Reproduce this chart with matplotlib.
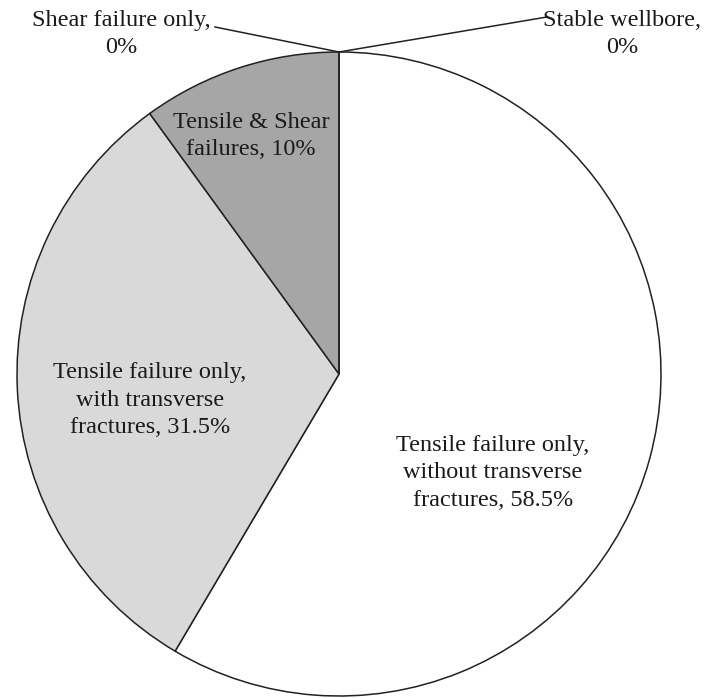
import numpy as np
import matplotlib
matplotlib.use("Agg")
import matplotlib.pyplot as plt

# Failure-mode shares (clockwise from 12 o'clock)
categories = [
    "Stable wellbore,\n0%",
    "Tensile failure only,\nwithout transverse\nfractures, 58.5%",
    "Tensile failure only,\nwith transverse\nfractures, 31.5%",
    "Tensile & Shear\nfailures, 10%",
    "Shear failure only,\n0%",
]
shares = [0.0, 58.5, 31.5, 10.0, 0.0]
colors = ["#FFFFFF", "#FFFFFF", "#D9D9D9", "#A6A6A6", "#FFFFFF"]

W, H = 713, 698
fig = plt.figure(figsize=(W / 100, H / 100), dpi=100)
ax = fig.add_axes([0, 0, 1, 1])

cx, cy, R = 339, H - 374, 322
wedges, _ = ax.pie(shares, startangle=90, counterclock=False, colors=colors,
                   center=(cx, cy), radius=R,
                   wedgeprops=dict(edgecolor="#222222", linewidth=1.1))
ax.set_xlim(0, W)
ax.set_ylim(0, H)
ax.set_aspect("auto")
ax.axis("off")

font = dict(family="Liberation Serif", fontsize=17.5, color="#1a1a1a",
            ha="center", va="center", linespacing=1.42)

# In-slice labels (pixel positions measured from the top edge)
inside = {1: (493, 473), 2: (150, 400), 3: (251, 136)}
for i, (x, y) in inside.items():
    ax.text(x, H - y, categories[i], **font)

# Zero-share labels with leader lines to the wedge point on the rim
outside = {0: ((622, 34), (547, 17)), 4: ((121, 34), (215, 27))}
for i, ((tx, ty), (lx, ly)) in outside.items():
    w = wedges[i]
    th = np.deg2rad(w.theta1)
    px, py = cx + R * np.cos(th), cy + R * np.sin(th)
    ax.text(tx, H - ty, categories[i], **font)
    ax.plot([px, lx], [py, H - ly], color="#222222", lw=1.1)

fig.savefig("out.png", dpi=100, facecolor="white")
